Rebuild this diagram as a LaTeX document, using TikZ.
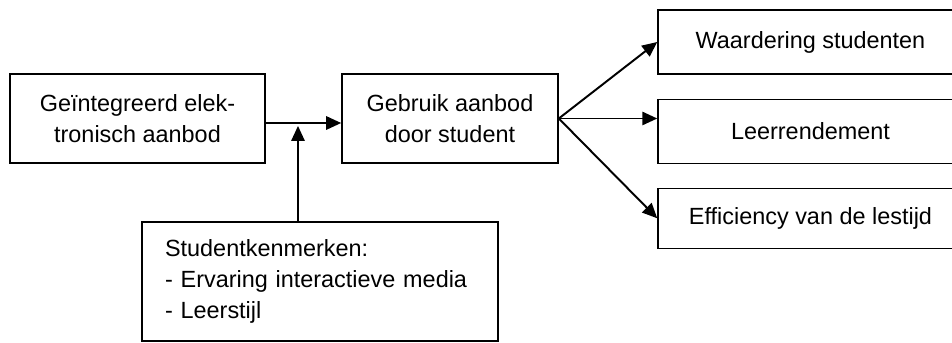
\documentclass[tikz,border=0pt]{standalone}
\usepackage{fontspec}
\setmainfont{Liberation Sans}
\usetikzlibrary{arrows.meta}

\begin{document}
\begin{tikzpicture}[x=0.018cm, y=-0.018cm, font=\fontsize{12}{16}\selectfont, line width=0.8pt,
	box/.style={draw, inner sep=0pt, align=center},
	arr/.style={line width=1pt, -{Triangle[length=2.7mm,width=2.4mm]}}]
	\clip (0,0) rectangle (952,343);
	\node[box, minimum width=4.59cm, minimum height=1.6cm] (aanbod) at (137.5,118.5) {Geïntegreerd elek-\\tronisch aanbod};
	\node[box, minimum width=3.89cm, minimum height=1.6cm] (gebruik) at (450,118.5) {Gebruik aanbod\\door student};
	\node[box, minimum width=5.49cm, minimum height=1.152cm] (waardering) at (810.5,42) {Waardering studenten};
	\node[box, minimum width=5.49cm, minimum height=1.152cm] (leer) at (810.5,131.3) {Leerrendement};
	\node[box, minimum width=5.49cm, minimum height=1.08cm] (efficiency) at (810.5,218.3) {Efficiency van de lestijd};
	\node[box, align=left, text width=5.58cm, inner xsep=0.414cm, minimum height=2.142cm] (kenmerken) at (320,281.5) {Studentkenmerken:\\- Ervaring interactieve media\\- Leerstijl};
	\coordinate (kruis) at (298,123);
	\draw[arr] (aanbod.east |- kruis) -- (gebruik.west |- kruis);
	\draw[arr, shorten >=1.5pt] (kruis |- kenmerken.north) -- (kruis);
	\draw[arr] (gebruik.east) -- (waardering.west);
	\draw[arr] (gebruik.east) -- (leer.west |- gebruik.east);
	\draw[arr] (gebruik.east) -- (efficiency.west);
\end{tikzpicture}
\end{document}
